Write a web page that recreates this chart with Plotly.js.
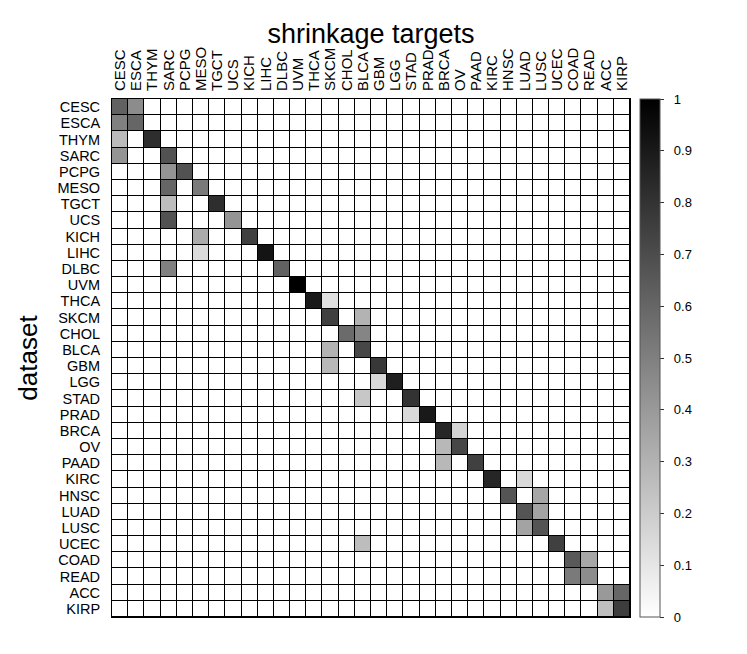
<!DOCTYPE html>
<html>
<head>
<meta charset="utf-8">
<script src="https://cdn.plot.ly/plotly-3.0.1.min.js"></script>
<style>html,body{margin:0;padding:0;background:#fff;}#chart{width:747px;height:654px;}</style>
</head>
<body>
<div id="chart"></div>
<script>
// Shrinkage targets (columns) and datasets (rows)
var targets = ["CESC","ESCA","THYM","SARC","PCPG","MESO","TGCT","UCS","KICH","LIHC","DLBC","UVM","THCA","SKCM","CHOL","BLCA","GBM","LGG","STAD","PRAD","BRCA","OV","PAAD","KIRC","HNSC","LUAD","LUSC","UCEC","COAD","READ","ACC","KIRP"];
var datasets = ["CESC","ESCA","THYM","SARC","PCPG","MESO","TGCT","UCS","KICH","LIHC","DLBC","UVM","THCA","SKCM","CHOL","BLCA","GBM","LGG","STAD","PRAD","BRCA","OV","PAAD","KIRC","HNSC","LUAD","LUSC","UCEC","COAD","READ","ACC","KIRP"];

// weight matrix, one row per dataset, one value per shrinkage target
var weights = [
/*CESC*/ [0.62,0.45,0,0,0,0,0,0,0,0,0,0,0,0,0,0,0,0,0,0,0,0,0,0,0,0,0,0,0,0,0,0],
/*ESCA*/ [0.50,0.60,0,0,0,0,0,0,0,0,0,0,0,0,0,0,0,0,0,0,0,0,0,0,0,0,0,0,0,0,0,0],
/*THYM*/ [0.27,0,0.82,0,0,0,0,0,0,0,0,0,0,0,0,0,0,0,0,0,0,0,0,0,0,0,0,0,0,0,0,0],
/*SARC*/ [0.42,0,0,0.68,0,0,0,0,0,0,0,0,0,0,0,0,0,0,0,0,0,0,0,0,0,0,0,0,0,0,0,0],
/*PCPG*/ [0,0,0,0.42,0.68,0,0,0,0,0,0,0,0,0,0,0,0,0,0,0,0,0,0,0,0,0,0,0,0,0,0,0],
/*MESO*/ [0,0,0,0.60,0,0.52,0,0,0,0,0,0,0,0,0,0,0,0,0,0,0,0,0,0,0,0,0,0,0,0,0,0],
/*TGCT*/ [0,0,0,0.26,0,0,0.82,0,0,0,0,0,0,0,0,0,0,0,0,0,0,0,0,0,0,0,0,0,0,0,0,0],
/*UCS */ [0,0,0,0.68,0,0,0,0.42,0,0,0,0,0,0,0,0,0,0,0,0,0,0,0,0,0,0,0,0,0,0,0,0],
/*KICH*/ [0,0,0,0,0,0.33,0,0,0.75,0,0,0,0,0,0,0,0,0,0,0,0,0,0,0,0,0,0,0,0,0,0,0],
/*LIHC*/ [0,0,0,0,0,0.14,0,0,0,0.92,0,0,0,0,0,0,0,0,0,0,0,0,0,0,0,0,0,0,0,0,0,0],
/*DLBC*/ [0,0,0,0.50,0,0,0,0,0,0,0.62,0,0,0,0,0,0,0,0,0,0,0,0,0,0,0,0,0,0,0,0,0],
/*UVM */ [0,0,0,0,0,0,0,0,0,0,0,1.00,0,0,0,0,0,0,0,0,0,0,0,0,0,0,0,0,0,0,0,0],
/*THCA*/ [0,0,0,0,0,0,0,0,0,0,0,0,0.90,0.12,0,0,0,0,0,0,0,0,0,0,0,0,0,0,0,0,0,0],
/*SKCM*/ [0,0,0,0,0,0,0,0,0,0,0,0,0,0.75,0,0.30,0,0,0,0,0,0,0,0,0,0,0,0,0,0,0,0],
/*CHOL*/ [0,0,0,0,0,0,0,0,0,0,0,0,0,0,0.58,0.48,0,0,0,0,0,0,0,0,0,0,0,0,0,0,0,0],
/*BLCA*/ [0,0,0,0,0,0,0,0,0,0,0,0,0,0.30,0,0.72,0,0,0,0,0,0,0,0,0,0,0,0,0,0,0,0],
/*GBM */ [0,0,0,0,0,0,0,0,0,0,0,0,0,0.28,0,0,0.78,0,0,0,0,0,0,0,0,0,0,0,0,0,0,0],
/*LGG */ [0,0,0,0,0,0,0,0,0,0,0,0,0,0,0,0,0.15,0.88,0,0,0,0,0,0,0,0,0,0,0,0,0,0],
/*STAD*/ [0,0,0,0,0,0,0,0,0,0,0,0,0,0,0,0.22,0,0,0.80,0,0,0,0,0,0,0,0,0,0,0,0,0],
/*PRAD*/ [0,0,0,0,0,0,0,0,0,0,0,0,0,0,0,0,0,0,0.15,0.90,0,0,0,0,0,0,0,0,0,0,0,0],
/*BRCA*/ [0,0,0,0,0,0,0,0,0,0,0,0,0,0,0,0,0,0,0,0,0.85,0.17,0,0,0,0,0,0,0,0,0,0],
/*OV  */ [0,0,0,0,0,0,0,0,0,0,0,0,0,0,0,0,0,0,0,0,0.28,0.72,0,0,0,0,0,0,0,0,0,0],
/*PAAD*/ [0,0,0,0,0,0,0,0,0,0,0,0,0,0,0,0,0,0,0,0,0.28,0,0.75,0,0,0,0,0,0,0,0,0],
/*KIRC*/ [0,0,0,0,0,0,0,0,0,0,0,0,0,0,0,0,0,0,0,0,0,0,0,0.85,0,0.15,0,0,0,0,0,0],
/*HNSC*/ [0,0,0,0,0,0,0,0,0,0,0,0,0,0,0,0,0,0,0,0,0,0,0,0,0.67,0,0.35,0,0,0,0,0],
/*LUAD*/ [0,0,0,0,0,0,0,0,0,0,0,0,0,0,0,0,0,0,0,0,0,0,0,0,0,0.67,0.36,0,0,0,0,0],
/*LUSC*/ [0,0,0,0,0,0,0,0,0,0,0,0,0,0,0,0,0,0,0,0,0,0,0,0,0,0.36,0.67,0,0,0,0,0],
/*UCEC*/ [0,0,0,0,0,0,0,0,0,0,0,0,0,0,0,0.26,0,0,0,0,0,0,0,0,0,0,0,0.75,0,0,0,0],
/*COAD*/ [0,0,0,0,0,0,0,0,0,0,0,0,0,0,0,0,0,0,0,0,0,0,0,0,0,0,0,0,0.65,0.35,0,0],
/*READ*/ [0,0,0,0,0,0,0,0,0,0,0,0,0,0,0,0,0,0,0,0,0,0,0,0,0,0,0,0,0.52,0.45,0,0],
/*ACC */ [0,0,0,0,0,0,0,0,0,0,0,0,0,0,0,0,0,0,0,0,0,0,0,0,0,0,0,0,0,0,0.40,0.60],
/*KIRP*/ [0,0,0,0,0,0,0,0,0,0,0,0,0,0,0,0,0,0,0,0,0,0,0,0,0,0,0,0,0,0,0.25,0.76]
];
var colorTicks = [0,0.1,0.2,0.3,0.4,0.5,0.6,0.7,0.8,0.9,1];

var FONT = "Liberation Sans, Arial, Helvetica, sans-serif";
var PAD = "\u00a0\u00a0";

var trace = {
  type: "heatmap",
  x: targets,
  y: datasets,
  z: weights,
  zmin: 0, zmax: 1,
  colorscale: [[0, "#ffffff"], [1, "#000000"]],
  xgap: 1, ygap: 1,
  hoverongaps: false,
  colorbar: {
    x: 1.019, xanchor: "left", xpad: 0,
    y: 0.5, yanchor: "middle", len: 1, lenmode: "fraction", ypad: 0,
    thickness: 20, thicknessmode: "pixels",
    outlinecolor: "#555", outlinewidth: 1,
    ticks: "outside", ticklen: 4, tickcolor: "#333",
    tickvals: colorTicks,
    ticktext: colorTicks.map(function(v){return PAD + String(v);}),
    tickfont: {family: FONT, size: 13, color: "#000"}
  }
};

var layout = {
  width: 747, height: 654,
  margin: {l: 112, r: 117, t: 99, b: 37, pad: 0},
  paper_bgcolor: "#fff",
  plot_bgcolor: "#000",
  font: {family: FONT, color: "#000"},
  title: {text: "shrinkage targets", font: {family: FONT, size: 27, color: "#000"},
          x: 0.5, xref: "paper", xanchor: "center", y: 1 - 34/654, yref: "container", yanchor: "middle"},
  xaxis: {
    side: "top", type: "category", tickangle: -90,
    tickmode: "array", tickvals: targets,
    tickfont: {family: FONT, size: 15},
    ticks: "", showgrid: false, zeroline: false,
    showline: true, mirror: true, linecolor: "#000", linewidth: 1,
    ticklabelstandoff: 4
  },
  yaxis: {
    type: "category", autorange: "reversed",
    tickmode: "array", tickvals: datasets,
    tickfont: {family: FONT, size: 14.5},
    ticks: "", showgrid: false, zeroline: false,
    showline: true, mirror: true, linecolor: "#000", linewidth: 1,
    ticklabelstandoff: 8,
    title: {text: "dataset", font: {family: FONT, size: 26, color: "#000"}, standoff: 12}
  }
};

Plotly.newPlot("chart", [trace], layout, {displayModeBar: false, staticPlot: true});
</script>
</body>
</html>
